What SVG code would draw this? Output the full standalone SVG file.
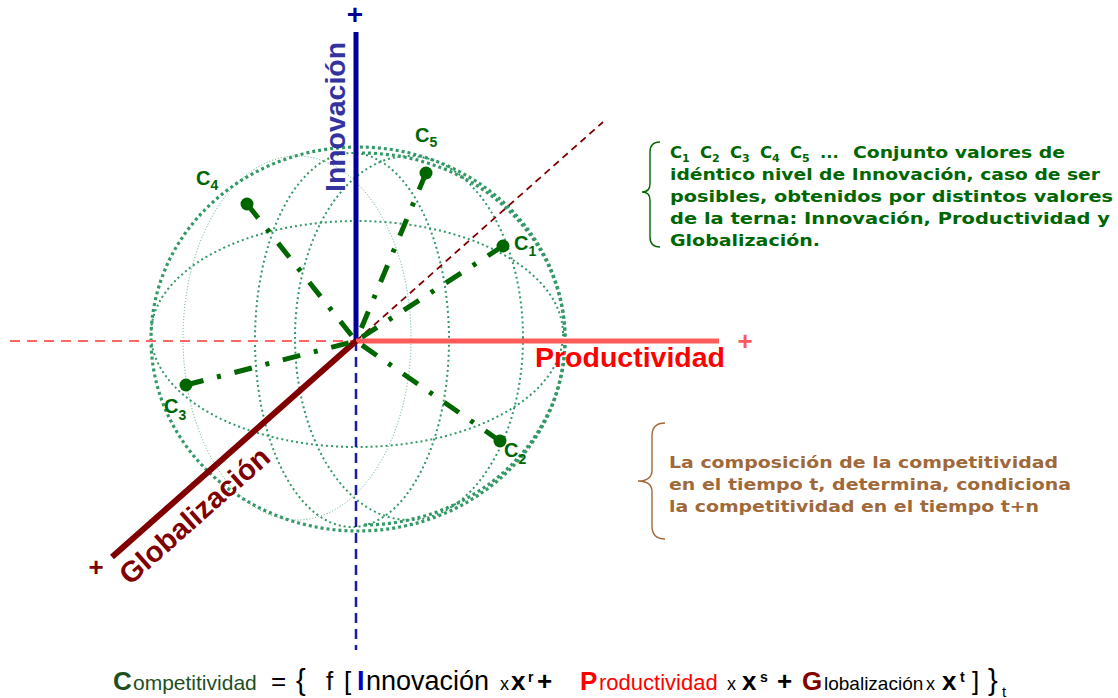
<svg xmlns="http://www.w3.org/2000/svg" width="1118" height="698" viewBox="0 0 1118 698">
<style>
.thick{fill:none;stroke:#339966;stroke-width:3.2;stroke-dasharray:3 3}
.med{fill:none;stroke:#339966;stroke-width:2;stroke-dasharray:2 3}
.thin{fill:none;stroke:#55aa80;stroke-width:1;stroke-dasharray:1 2}
.dd{fill:none;stroke:#006600;stroke-width:5;stroke-dasharray:18 14 4 14}
.pt{fill:#006600}
.cl{font-family:"Liberation Sans",Arial,sans-serif;font-weight:bold;font-size:20px;fill:#006600}
.cs{font-size:14px}
.ax{font-family:"Liberation Sans",Arial,sans-serif;font-weight:bold}
.note{font-family:"DejaVu Sans",Verdana,sans-serif;font-weight:bold;font-size:16.5px}
.f{font-family:"Liberation Sans",Arial,sans-serif;fill:#000}
.b{font-weight:bold}
</style>
<g id="sphere">
<ellipse class="thick" cx="358" cy="339" rx="207" ry="192"/>
<path class="thick" d="M362,153 A203,186 0 0 1 362,525"/>
<ellipse class="thin" cx="297" cy="338" rx="114" ry="182"/>
<ellipse class="med" cx="352" cy="340" rx="97" ry="187"/>
<ellipse class="med" cx="409" cy="338" rx="114" ry="182"/>
<ellipse class="med" cx="357" cy="334" rx="206" ry="113"/>
</g>
<g id="axes">
<line x1="10" y1="341" x2="356" y2="341" stroke="#ff6666" stroke-width="2.2" stroke-dasharray="10 7"/>
<line x1="356" y1="341" x2="356" y2="650" stroke="#1a1aa8" stroke-width="2.5" stroke-dasharray="10 6"/>
<line x1="356" y1="341" x2="603" y2="122" stroke="#800000" stroke-width="1.8" stroke-dasharray="7 5"/>
<line x1="356" y1="32" x2="356" y2="341" stroke="#000099" stroke-width="5"/>
<line x1="356" y1="341" x2="719" y2="341" stroke="#ff5a5a" stroke-width="5"/>
<line x1="356" y1="341" x2="112" y2="557" stroke="#800000" stroke-width="6"/>
</g>
<g id="connectors">
<path class="dd" d="M247,204 L356,341"/>
<path class="dd" d="M426,173 L356,341"/>
<path class="dd" d="M503,246 L356,341"/>
<path class="dd" d="M500,441 L356,341"/>
<path class="dd" d="M186,385 L356,341"/>
</g>
<g id="C1"><circle class="pt" cx="503" cy="246" r="6.5"/><text class="cl" x="514" y="250">C<tspan class="cs" dy="6">1</tspan></text></g>
<g id="C2"><circle class="pt" cx="500" cy="441" r="6.5"/><text class="cl" x="504" y="457">C<tspan class="cs" dy="7">2</tspan></text></g>
<g id="C3"><circle class="pt" cx="186" cy="385" r="6.5"/><text class="cl" x="164" y="413">C<tspan class="cs" dy="7">3</tspan></text></g>
<g id="C4"><circle class="pt" cx="247" cy="204" r="6.5"/><text class="cl" x="196" y="185">C<tspan class="cs" dy="5">4</tspan></text></g>
<g id="C5"><circle class="pt" cx="426" cy="173" r="6.5"/><text class="cl" x="415" y="142">C<tspan class="cs" dy="5">5</tspan></text></g>
<g id="labels">
<text class="ax" x="355" y="24" font-size="28" fill="#000099" text-anchor="middle">+</text>
<text class="ax" transform="translate(345,192) rotate(-90)" font-size="28" fill="#3333a0" textLength="150" lengthAdjust="spacingAndGlyphs">Innovación</text>
<text class="ax" x="745" y="350" font-size="26" fill="#ff5a5a" text-anchor="middle">+</text>
<text class="ax" x="535" y="367" font-size="28" fill="#ff0000" textLength="190" lengthAdjust="spacingAndGlyphs">Productividad</text>
<text class="ax" x="96" y="576" font-size="26" fill="#800000" text-anchor="middle">+</text>
<text class="ax" transform="translate(130,586) rotate(-41.6)" font-size="29" fill="#800000" textLength="190" lengthAdjust="spacingAndGlyphs">Globalización</text>
</g>
<g id="note1">
<path d="M660,142 Q650,142 650,152 L650,184 Q650,192 642,192 Q650,192 650,200 L650,237 Q650,247 660,247" fill="none" stroke="#006600" stroke-width="1.4"/>
<text class="note" fill="#006600" y="158"><tspan x="670">C</tspan><tspan font-size="11" dy="4">1</tspan><tspan x="700" dy="-4">C</tspan><tspan font-size="11" dy="4">2</tspan><tspan x="730" dy="-4">C</tspan><tspan font-size="11" dy="4">3</tspan><tspan x="760" dy="-4">C</tspan><tspan font-size="11" dy="4">4</tspan><tspan x="790" dy="-4">C</tspan><tspan font-size="11" dy="4">5</tspan><tspan x="820" dy="-4">...</tspan></text>
<text class="note" fill="#006600" x="853" y="158" textLength="212" lengthAdjust="spacingAndGlyphs">Conjunto valores de</text>
<text class="note" fill="#006600" x="670" y="180" textLength="430" lengthAdjust="spacingAndGlyphs">idéntico nivel de Innovación, caso de ser</text>
<text class="note" fill="#006600" x="670" y="202" textLength="443" lengthAdjust="spacingAndGlyphs">posibles,  obtenidos por distintos valores</text>
<text class="note" fill="#006600" x="670" y="224" textLength="440" lengthAdjust="spacingAndGlyphs">de la terna:  Innovación, Productividad y</text>
<text class="note" fill="#006600" x="670" y="246" textLength="150" lengthAdjust="spacingAndGlyphs">Globalización.</text>
</g>
<g id="note2">
<path d="M665,423 Q652,423 652,436 L652,470 Q652,481 638,481 Q652,481 652,492 L652,526 Q652,539 665,539" fill="none" stroke="#a0693a" stroke-width="1.4"/>
<text class="note" fill="#a0693a" x="669" y="468" textLength="389" lengthAdjust="spacingAndGlyphs">La composición de la competitividad</text>
<text class="note" fill="#a0693a" x="669" y="490" textLength="402" lengthAdjust="spacingAndGlyphs">en el tiempo t, determina, condiciona</text>
<text class="note" fill="#a0693a" x="669" y="512" textLength="370" lengthAdjust="spacingAndGlyphs">la competitividad en el tiempo t+n</text>
</g>
<g id="formula">
<text class="f" y="690"><tspan x="113" class="b" font-size="26" fill="#1e4f1e">C</tspan><tspan x="133" font-size="21" fill="#1e4f1e">ompetitividad</tspan><tspan x="271" font-size="26">=</tspan><tspan x="296" font-size="29">{</tspan><tspan x="326" font-size="26">f</tspan><tspan x="344" font-size="26">[</tspan><tspan x="357" class="b" font-size="27" fill="#0000cc">I</tspan><tspan x="366" font-size="27">nnovación</tspan><tspan x="500" font-size="18">x</tspan><tspan x="511" class="b" font-size="26">x</tspan><tspan x="528" y="682" class="b" font-size="14">r</tspan><tspan x="537" y="690" class="b" font-size="26">+</tspan><tspan x="580" class="b" font-size="26" fill="#ff0000">P</tspan><tspan x="599" font-size="22" fill="#ff0000">roductividad</tspan><tspan x="727" font-size="18">x</tspan><tspan x="742" class="b" font-size="26">x</tspan><tspan x="760" y="682" class="b" font-size="14">s</tspan><tspan x="777" y="690" class="b" font-size="26">+</tspan><tspan x="802" class="b" font-size="26" fill="#800000">G</tspan><tspan x="824" font-size="19">lobalización</tspan><tspan x="926" font-size="18">x</tspan><tspan x="942" class="b" font-size="26">x</tspan><tspan x="960" y="682" class="b" font-size="14">t</tspan><tspan x="972" y="690" font-size="26">]</tspan><tspan x="988" font-size="29">}</tspan><tspan x="1002" y="697" font-size="15">t</tspan></text>
</g>
</svg>
